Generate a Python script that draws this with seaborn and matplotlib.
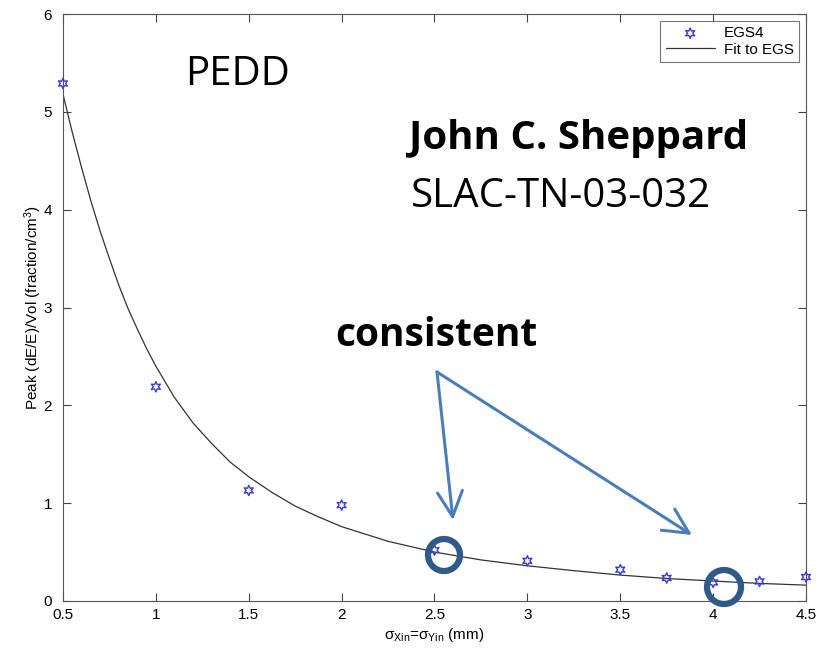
import matplotlib
matplotlib.use("Agg")
import matplotlib.pyplot as plt
import seaborn as sns
import pandas as pd

# ---- data ----
egs_x = [0.5, 1.0, 1.5, 2.0, 2.5, 3.0, 3.5, 3.75, 4.0, 4.25, 4.5]
egs_y = [5.29, 2.19, 1.13, 0.98, 0.52, 0.41, 0.32, 0.235, 0.19, 0.20, 0.245]

fit_x = [0.5, 0.55, 0.6, 0.65, 0.7, 0.75, 0.8, 0.85, 0.9, 0.95, 1.0, 1.1, 1.2, 1.3,
         1.4, 1.5, 1.625, 1.75, 1.875, 2.0, 2.25, 2.5, 2.75, 3.0, 3.25, 3.5, 3.75,
         4.0, 4.25, 4.5]
fit_y = [5.18, 4.79, 4.43, 4.09, 3.78, 3.50, 3.23, 2.99, 2.78, 2.58, 2.40, 2.08,
         1.82, 1.61, 1.42, 1.27, 1.11, 0.97, 0.86, 0.76, 0.61, 0.50, 0.42, 0.36,
         0.31, 0.265, 0.23, 0.204, 0.18, 0.162]

x_ticks = [0.5, 1, 1.5, 2, 2.5, 3, 3.5, 4, 4.5]
x_ticklabels = ["0.5", "1", "1.5", "2", "2.5", "3", "3.5", "4", "4.5"]
y_ticks = [0, 1, 2, 3, 4, 5, 6]

sns.set_theme(style="ticks")
plt.rcParams["font.family"] = ["Liberation Sans", "DejaVu Sans"]
plt.rcParams["mathtext.default"] = "regular"
plt.rcParams["text.color"] = "black"

fig = plt.figure(figsize=(8.33, 6.52), dpi=100)
ax = fig.add_axes([63/833, 1-601/652, (806-63)/833, (601-14)/652])

df_fit = pd.DataFrame({"x": fit_x, "y": fit_y})
df_egs = pd.DataFrame({"x": egs_x, "y": egs_y})

star = (6, 1, 0)
sns.scatterplot(data=df_egs, x="x", y="y", ax=ax, marker=star, s=55,
                facecolor="none", edgecolor="#3a3ad8", linewidth=1.0,
                label="EGS4", zorder=3, clip_on=False)
sns.lineplot(data=df_fit, x="x", y="y", ax=ax, color="#333333", linewidth=0.9,
             label="Fit to EGS", zorder=2)

ax.set_xlim(0.5, 4.5)
ax.set_ylim(0, 6)
ax.set_xticks(x_ticks)
ax.set_xticklabels(x_ticklabels)
ax.set_yticks(y_ticks)
ax.tick_params(direction="in", length=6, width=0.8, colors="#444444",
               labelcolor="black", labelsize=11, top=True, right=True)
ax.tick_params(axis="y", pad=8)
ax.tick_params(axis="x", pad=5)
for s in ax.spines.values():
    s.set_color("#555555")
    s.set_linewidth(0.8)

ax.set_xlabel(r"σ$_{Xin}$=σ$_{Yin}$ (mm)", fontsize=11, labelpad=3, color="black")
ax.set_ylabel(r"Peak (dE/E)/Vol (fraction/cm$^3$)", fontsize=11, color="black")
ax.yaxis.set_label_coords(-0.026, 0.5)

leg = ax.legend(loc="upper right", fontsize=11, frameon=True, fancybox=False,
                edgecolor="#555555", borderpad=0.35, handlelength=3.2,
                labelspacing=0.15, borderaxespad=0.45, handletextpad=0.6)
leg.get_frame().set_linewidth(0.8)

# ---- slide annotations ----
cal = ["Open Sans", "DejaVu Sans"]
fig.text(185/833, 1-75/652, "PEDD", fontsize=29, family=cal, va="center", ha="left", color="black")
fig.text(409/833, 1-138/652, "John C. Sheppard", fontsize=29, family=cal,
         fontweight="bold", va="center", ha="left", color="black")
fig.text(411/833, 1-197/652, "SLAC-TN-03-032", fontsize=29, family=cal,
         va="center", ha="left", color="black")
fig.text(335/833, 1-335/652, "consistent", fontsize=28, family=cal,
         fontweight="bold", va="center", ha="left", color="black")

arrow_col = "#4a7ebb"
start = (437/833, 1-372/652)
for end in [(453/833, 1-520/652), (692/833, 1-535/652)]:
    fig.patches.append(matplotlib.patches.FancyArrowPatch(
        start, end, transform=fig.transFigure,
        arrowstyle="->,head_length=0.9,head_width=0.45",
        color=arrow_col, linewidth=2.2, mutation_scale=20,
        shrinkA=0, shrinkB=0))

circ_col = "#2f5a8a"
for cx, cy, r in [(444, 555, 16), (724, 587, 17)]:
    fig.patches.append(matplotlib.patches.Ellipse(
        (cx/833, 1-cy/652), 2*r/833, 2*r/652, transform=fig.transFigure,
        fill=False, edgecolor=circ_col, linewidth=4.5))

fig.savefig("out.png", dpi=100)
